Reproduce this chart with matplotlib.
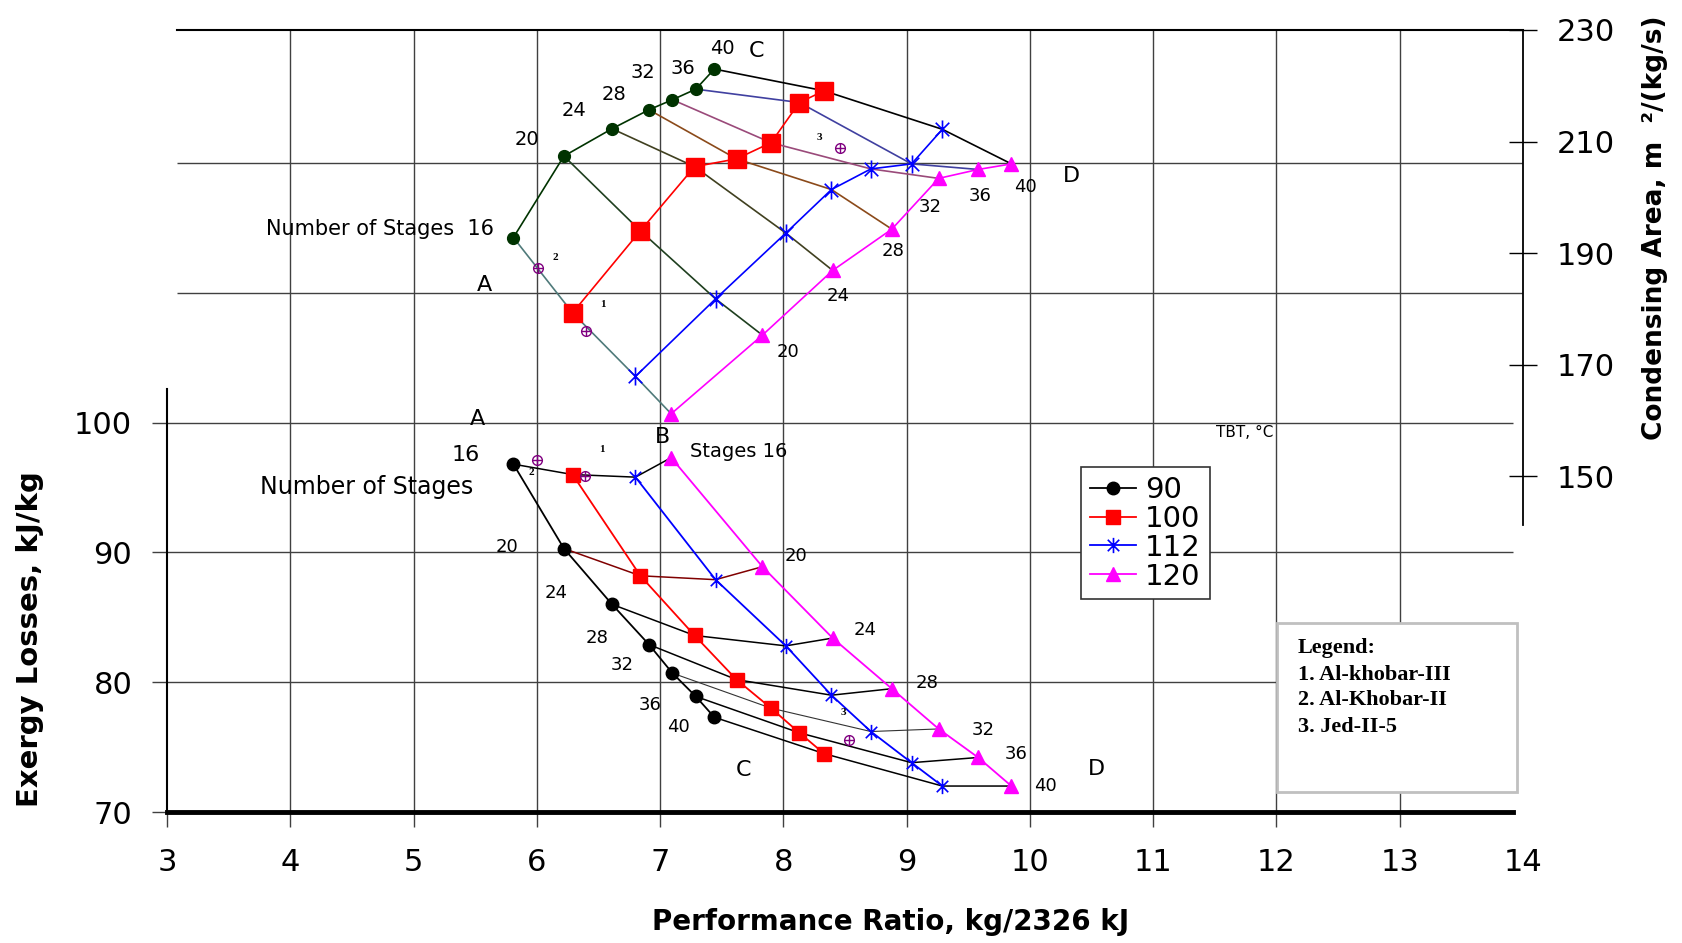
import matplotlib
matplotlib.use('Agg')
import matplotlib.pyplot as plt
from matplotlib.path import Path
from matplotlib.patches import Rectangle

plt.rcParams['font.family'] = ['DejaVu Sans']

# datos
stages = [16, 20, 24, 28, 32, 36, 40]
tbt = ['90', '100', '112', '120']

pr_90 = [5.81, 6.22, 6.61, 6.91, 7.10, 7.29, 7.44]
pr_100 = [6.29, 6.84, 7.28, 7.62, 7.90, 8.13, 8.33]
pr_112 = [6.80, 7.45, 8.02, 8.39, 8.71, 9.04, 9.29]
pr_120 = [7.09, 7.83, 8.40, 8.88, 9.26, 9.58, 9.85]

exergy_90 = [96.8, 90.3, 86.0, 82.9, 80.7, 78.9, 77.3]
exergy_100 = [96.0, 88.2, 83.6, 80.2, 78.0, 76.1, 74.5]
exergy_112 = [95.8, 87.9, 82.8, 79.0, 76.2, 73.8, 72.0]
exergy_120 = [97.3, 88.9, 83.4, 79.5, 76.4, 74.2, 72.0]

area_90 = [192.8, 207.4, 212.3, 215.7, 217.5, 219.4, 223.0]
area_100 = [179.3, 194.0, 205.5, 206.9, 209.8, 217.0, 219.1]
area_112 = [167.9, 181.8, 193.6, 201.4, 205.1, 206.0, 212.2]
area_120 = [161.2, 175.3, 186.9, 194.3, 203.4, 205.0, 206.0]

# plantas: 1 Al-khobar-III, 2 Al-Khobar-II, 3 Jed-II-5
plant_pr_exergy = [6.39, 6.00, 8.53]
plant_exergy = [95.9, 97.1, 75.55]
plant_pr_area = [6.40, 6.01, 8.46]
plant_area = [176.0, 187.3, 208.9]

pr_all = [pr_90, pr_100, pr_112, pr_120]
ex_all = [exergy_90, exergy_100, exergy_112, exergy_120]
ar_all = [area_90, area_100, area_112, area_120]

# marcador estrella tipo excel
star = Path([(0, -1), (0, 1), (-0.75, -0.75), (0.75, 0.75), (-0.75, 0.75), (0.75, -0.75)],
            [Path.MOVETO, Path.LINETO] * 3)

fig = plt.figure(figsize=(16.82, 9.43), dpi=100)
ax = fig.add_axes([167 / 1682, 131 / 943, 1356 / 1682, 782 / 943])
ax.set_xlim(3, 14)
ax.set_ylim(70, 130.25)
ax2 = ax.twinx()
ax2.set_ylim(89.82, 230)

# rejilla
gc = '#404040'
ax.hlines([80, 90, 100], 3, 13.92, color=gc, lw=1, zorder=0)
ax.hlines([110, 120], 3.08, 14, color=gc, lw=1, zorder=0)
ax.vlines(range(4, 14), 70, 130.25, color=gc, lw=1, zorder=0)

# --- grafico inferior: perdidas de exergia ---
bot_iso_colors = ['black', '#800000', 'black', 'black', '#333333', 'black', 'black']
for i in range(len(stages)):
    ax.plot([p[i] for p in pr_all], [e[i] for e in ex_all],
            color=bot_iso_colors[i], lw=1.1 if i != 4 else 0.8, zorder=2)

ax.plot(pr_90, exergy_90, color='black', marker='o', ms=9, lw=1.3, label=tbt[0], zorder=3)
ax.plot(pr_100, exergy_100, color='red', marker='s', ms=10, lw=1.3, label=tbt[1], zorder=3)
ax.plot(pr_112, exergy_112, color='blue', marker=star, ms=11, mew=1.2, lw=1.3, label=tbt[2], zorder=3)
ax.plot(pr_120, exergy_120, color='magenta', marker='^', ms=10, lw=1.3, label=tbt[3], zorder=3)

ax.plot(plant_pr_exergy, plant_exergy, ls='none', marker='o', ms=7, mfc='none', mec='#800080', mew=1, zorder=4)
ax.plot(plant_pr_exergy, plant_exergy, ls='none', marker='+', ms=7, mec='#800080', mew=1, zorder=4)

# textos inferiores
ax.text(5.517, 100.25, 'A', fontsize=16, ha='center', va='center')
ax.text(7.016, 98.93, 'B', fontsize=16, ha='center', va='center')
ax.text(5.423, 97.52, '16', fontsize=16, ha='center', va='center')
ax.text(4.619, 95.04, 'Number of Stages', fontsize=17, ha='center', va='center')
ax.text(7.24, 97.77, 'Stages 16', fontsize=14, ha='left', va='center')
ax.text(7.678, 73.22, 'C', fontsize=16, ha='center', va='center')
ax.text(10.543, 73.31, 'D', fontsize=16, ha='center', va='center')
ax.text(11.746, 99.26, 'TBT, °C', fontsize=11, ha='center', va='center')
for s, x, y in [('20', 5.761, 90.41), ('24', 6.153, 86.86), ('28', 6.485, 83.39),
                ('32', 6.693, 81.32), ('36', 6.919, 78.26), ('40', 7.146, 76.53),
                ('20', 8.104, 89.75), ('24', 8.662, 84.05), ('28', 9.167, 79.92),
                ('32', 9.62, 76.28), ('36', 9.891, 74.46), ('40', 10.125, 71.98)]:
    ax.text(x, y, s, fontsize=13, ha='center', va='center')
for s, x, y in [('1', 6.528, 97.93), ('2', 5.953, 96.12), ('3', 8.487, 77.69)]:
    ax.text(x, y, s, fontsize=8, family='Liberation Serif', weight='bold', ha='center', va='center')

# --- grafico superior: area de condensacion ---
top_iso_colors = ['#4f7a7a', '#1f3f1f', '#404020', '#8b4a1a', '#9a4a7a', '#4040a0', 'black']
for i in range(len(stages)):
    ax2.plot([p[i] for p in pr_all], [a[i] for a in ar_all], color=top_iso_colors[i], lw=1.2, zorder=2)

ax2.plot(pr_90, area_90, color='#003300', marker='o', ms=8.5, lw=1.2, zorder=3)
ax2.plot(pr_100, area_100, color='red', marker='s', ms=13, lw=1.2, zorder=3)
ax2.plot(pr_112, area_112, color='blue', marker=star, ms=13, mew=1.2, lw=1.2, zorder=3)
ax2.plot(pr_120, area_120, color='magenta', marker='^', ms=10, lw=1.2, zorder=3)

ax2.plot(plant_pr_area, plant_area, ls='none', marker='o', ms=7, mfc='none', mec='#800080', mew=1, zorder=4)
ax2.plot(plant_pr_area, plant_area, ls='none', marker='+', ms=7, mec='#800080', mew=1, zorder=4)

for s, x, y in [('40', 7.503, 226.7), ('36', 7.181, 223.1), ('32', 6.859, 222.3),
                ('28', 6.625, 218.5), ('24', 6.302, 215.6), ('20', 5.92, 210.4)]:
    ax2.text(x, y, s, fontsize=14, ha='center', va='center')
ax2.text(7.782, 226.15, 'C', fontsize=16, ha='center', va='center')
ax2.text(5.656, 194.4, 'Number of Stages  16', fontsize=15, ha='right', va='center')
ax2.text(5.578, 184.2, 'A', fontsize=16, ha='center', va='center')
ax2.text(10.338, 203.8, 'D', fontsize=16, ha='center', va='center')
for s, x, y in [('32', 9.193, 198.3), ('36', 9.594, 200.2), ('40', 9.961, 201.9),
                ('28', 8.889, 190.4), ('24', 8.442, 182.3), ('20', 8.035, 172.3)]:
    ax2.text(x, y, s, fontsize=13, ha='center', va='center')
for s, x, y in [('2', 6.153, 189.2), ('1', 6.535, 180.8), ('3', 8.293, 210.8)]:
    ax2.text(x, y, s, fontsize=8, family='Liberation Serif', weight='bold', ha='center', va='center')

# ejes
ax.set_xticks(range(3, 15))
ax.set_yticks([70, 80, 90, 100])
ax.tick_params(axis='x', direction='out', length=11, width=1, color=gc, labelsize=22, pad=15)
ax.tick_params(axis='y', direction='out', length=11, width=1, color=gc, labelsize=22, pad=14)
ax.xaxis.get_major_ticks()[-1].tick1line.set_visible(False)
ax.spines['right'].set_visible(False)
ax.spines['left'].set_bounds(70, 102.6)
ax.spines['left'].set_linewidth(1.5)
ax.spines['bottom'].set_bounds(3, 13.92)
ax.spines['bottom'].set_linewidth(3.5)
ax.spines['top'].set_bounds(3.08, 14)
ax.spines['top'].set_linewidth(1.5)

ax2.set_yticks([150, 170, 190, 210, 230])
ax2.tick_params(axis='y', direction='inout', length=20, width=1, labelsize=22, pad=14)
for sp in ['top', 'left', 'bottom']:
    ax2.spines[sp].set_visible(False)
ax2.spines['right'].set_bounds(141.2, 230)
ax2.spines['right'].set_linewidth(1.3)

leg = ax.legend(loc='upper left', bbox_to_anchor=(0.674, 0.441), fontsize=21, frameon=True,
                fancybox=False, framealpha=1, edgecolor='#333333', handlelength=1.6,
                handletextpad=0.3, labelspacing=0.03, borderpad=0.3, borderaxespad=0)
leg.get_frame().set_linewidth(1.2)
leg.set_zorder(10)

# cuadro de leyenda de plantas
fig.add_artist(Rectangle((1276.5 / 1682, 151 / 943), 240.5 / 1682, 169 / 943, transform=fig.transFigure,
                         facecolor='white', edgecolor='#c0c0c0', lw=2))
for s, y in [('Legend:', 648), ('1. Al-khobar-III', 675), ('2. Al-Khobar-II', 700), ('3. Jed-II-5', 727)]:
    fig.text(1298 / 1682, 1 - y / 943, s, fontsize=16, family='Liberation Serif', weight='bold',
             ha='left', va='center')

fig.text(891 / 1682, 1 - 922 / 943, 'Performance Ratio, kg/2326 kJ', fontsize=20, weight='bold',
         ha='center', va='center')
fig.text(30 / 1682, 1 - 639 / 943, 'Exergy Losses, kJ/kg', fontsize=21, weight='bold',
         rotation=90, ha='center', va='center')
fig.text(1655 / 1682, 1 - 228 / 943, 'Condensing Area, m  ²/(kg/s)', fontsize=19, weight='bold',
         rotation=90, ha='center', va='center')

fig.savefig('out.png', dpi=100)
